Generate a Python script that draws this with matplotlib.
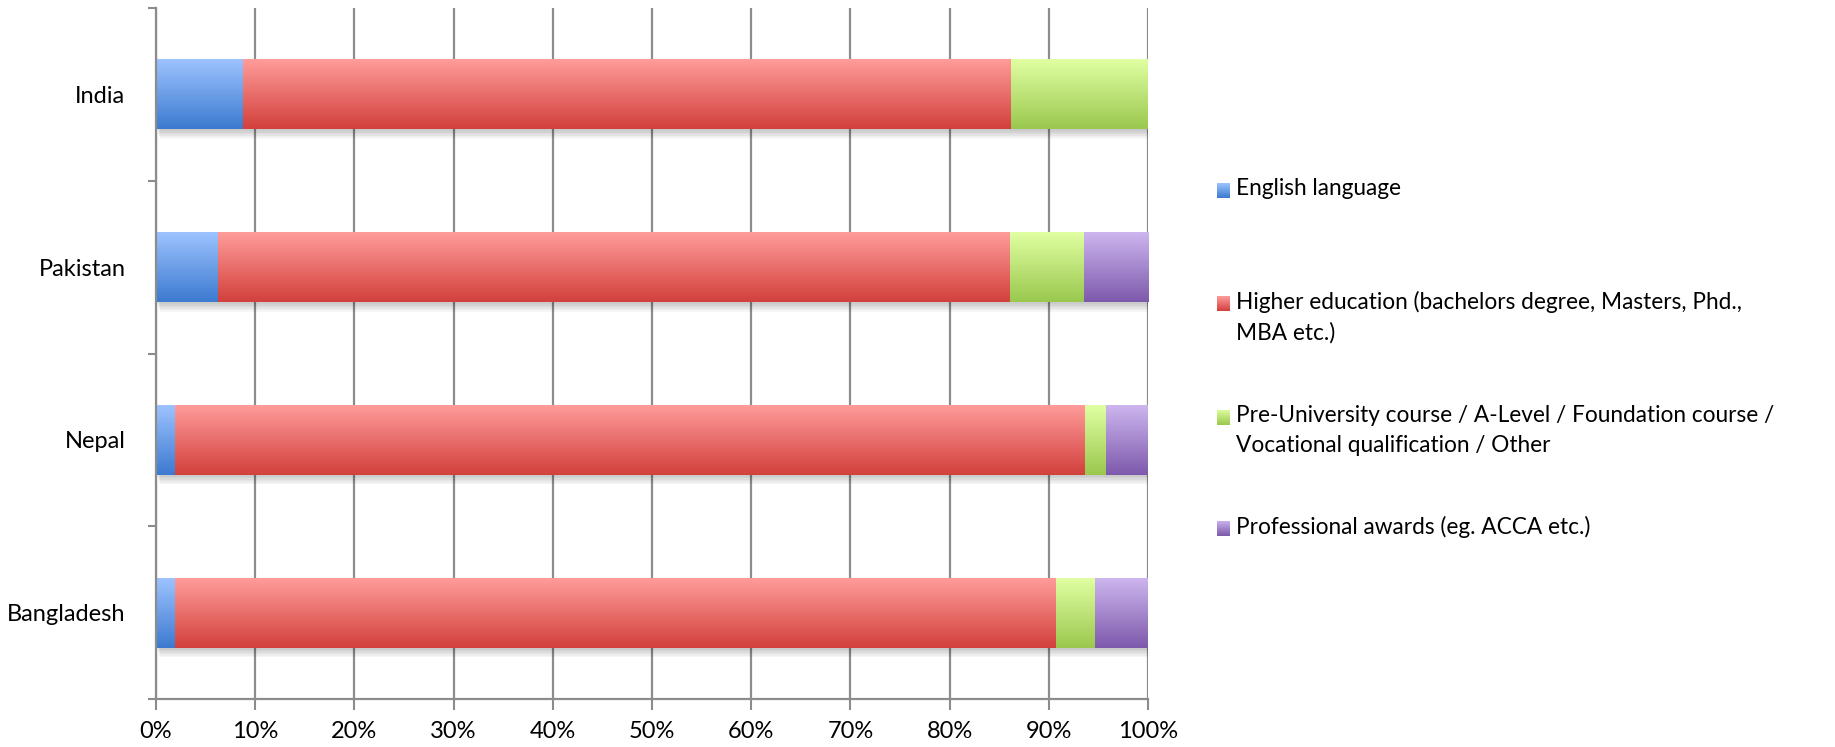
import numpy as np
import matplotlib
matplotlib.use("Agg")
import matplotlib.pyplot as plt
from matplotlib.colors import LinearSegmentedColormap
from matplotlib.patches import Rectangle
import matplotlib.transforms as mtransforms

plt.rcParams['font.family'] = ['Lato', 'DejaVu Sans']

countries = ['India', 'Pakistan', 'Nepal', 'Bangladesh']
english = [8.8, 6.2, 1.9, 1.9]
higher = [77.4, 79.9, 91.7, 88.8]
preuni = [13.8, 7.4, 2.2, 4.0]
professional = [0.0, 6.5, 4.2, 5.3]
series_labels = ['English language',
                 'Higher education (bachelors degree, Masters, Phd.,\nMBA etc.)',
                 'Pre-University course / A-Level / Foundation course /\nVocational qualification / Other',
                 'Professional awards (eg. ACCA etc.)']
xticks = list(range(0, 101, 10))

grads = [('#9dc3ff', '#3c7ad0'),
         ('#ff9c9a', '#d2403c'),
         ('#e0ffa2', '#9ac84e'),
         ('#cdb6ef', '#7d59ab')]

W, H = 1835, 747
fig = plt.figure(figsize=(W / 100, H / 100), dpi=100)
ax = fig.add_axes([156 / W, 1 - 699 / H, (1148 - 156) / W, (699 - 8) / H])

ypos = np.arange(len(countries))[::-1].astype(float)
series = [english, higher, preuni, professional]
bar_h = 0.405

# shadows
totals = np.sum(np.array(series), axis=0)
for k in range(6):
    off = mtransforms.ScaledTranslation((1 + k * 0.6) / 100, -(2 + k * 1.5) / 100, fig.dpi_scale_trans)
    for y, t in zip(ypos, totals):
        ax.add_patch(Rectangle((0, y - bar_h / 2), t, bar_h, transform=ax.transData + off,
                               facecolor='black', edgecolor='none', alpha=0.035, zorder=1.5))

left = np.zeros(len(countries))
for vals, (c1, c2) in zip(series, grads):
    cont = ax.barh(ypos, vals, left=left, height=bar_h, color='none', edgecolor='none', zorder=2)
    cmap = LinearSegmentedColormap.from_list('g', [c1, c2])
    grad = np.linspace(0, 1, 256).reshape(-1, 1)
    for p in cont.patches:
        x, y, w, h = p.get_x(), p.get_y(), p.get_width(), p.get_height()
        if w <= 0:
            continue
        ax.imshow(grad, cmap=cmap, extent=(x, x + w, y, y + h), origin='upper',
                  aspect='auto', zorder=2.5, interpolation='bilinear')
    left = left + np.array(vals)

ax.set_xlim(0, 100)
ax.set_ylim(-0.5, len(countries) - 0.5)
ax.set_xticks(xticks)
ax.set_xticklabels([f'{v}%' for v in xticks])
ax.set_yticks(np.arange(-0.5, len(countries), 1.0))
ax.set_yticklabels([])
ax.set_yticks(ypos, minor=True)
ax.set_yticklabels(countries, minor=True)
ax.tick_params(axis='y', which='minor', length=0, pad=22, labelsize=17)
ax.tick_params(axis='y', which='major', length=6, width=1.5, color='#8c8c8c', direction='out')
ax.tick_params(axis='x', length=8, width=1.5, color='#8c8c8c', direction='out', labelsize=17, pad=8)
ax.grid(axis='x', color='#8c8c8c', linewidth=1.6, zorder=1)
ax.set_axisbelow(True)
for s in ['top', 'right']:
    ax.spines[s].set_visible(False)
for s in ['left', 'bottom']:
    ax.spines[s].set_color('#8c8c8c')
    ax.spines[s].set_linewidth(1.6)

# legend
leg_y = [190, 303, 417, 528]
for (c1, c2), lab, yy in zip(grads, series_labels, leg_y):
    sax = fig.add_axes([1217 / W, 1 - (yy + 8) / H, 13 / W, 15 / H])
    sax.imshow(np.linspace(0, 1, 64).reshape(-1, 1), cmap=LinearSegmentedColormap.from_list('g', [c1, c2]),
               aspect='auto', interpolation='bilinear')
    sax.axis('off')
    fig.text(1236 / W, 1 - (yy - 12) / H, lab, fontsize=16.3, va='top', ha='left', linespacing=1.5)

fig.savefig('out.png', dpi=100)
